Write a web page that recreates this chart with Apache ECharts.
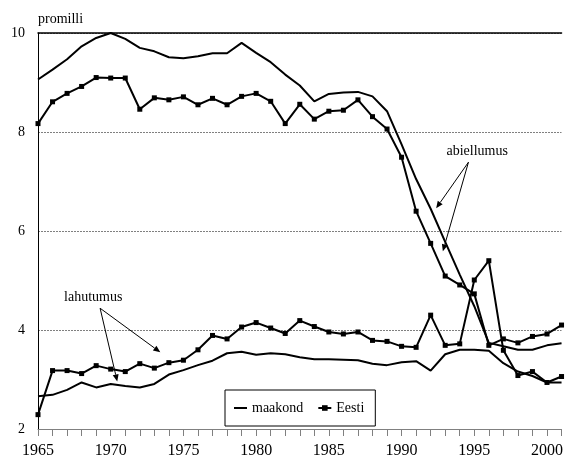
<!DOCTYPE html>
<html>
<head>
<meta charset="utf-8">
<script src="https://cdn.jsdelivr.net/npm/echarts@6/dist/echarts.min.js"></script>
<style>
html,body{margin:0;padding:0;background:#fff;}
#chart{width:566px;height:459px;}
</style>
</head>
<body>
<div id="chart"></div>
<script>
// ---- data ----
const years = [1965,1966,1967,1968,1969,1970,1971,1972,1973,1974,1975,1976,1977,1978,1979,1980,1981,1982,1983,1984,1985,1986,1987,1988,1989,1990,1991,1992,1993,1994,1995,1996,1997,1998,1999,2000,2001];
// abiellumus (marriages per 1000)
const maakondAbiellumus = [9.06,9.26,9.47,9.73,9.90,10.0,9.88,9.70,9.63,9.51,9.49,9.53,9.59,9.59,9.80,9.60,9.41,9.16,8.94,8.62,8.77,8.80,8.81,8.72,8.42,7.75,7.05,6.45,5.78,5.12,4.48,3.74,3.67,3.60,3.60,3.69,3.73];
const eestiAbiellumus = [8.17,8.61,8.78,8.92,9.10,9.09,9.09,8.46,8.69,8.65,8.71,8.55,8.68,8.55,8.72,8.78,8.62,8.17,8.56,8.26,8.42,8.44,8.65,8.31,8.06,7.49,6.40,5.75,5.09,4.91,4.73,3.69,3.82,3.74,3.87,3.92,4.10];
// lahutumus (divorces per 1000)
const maakondLahutumus = [2.66,2.69,2.79,2.94,2.84,2.91,2.87,2.84,2.91,3.10,3.19,3.29,3.38,3.53,3.56,3.50,3.53,3.51,3.45,3.41,3.41,3.40,3.39,3.32,3.29,3.35,3.37,3.18,3.51,3.60,3.60,3.58,3.33,3.16,3.07,2.94,2.94];
const eestiLahutumus = [2.29,3.18,3.18,3.12,3.28,3.21,3.16,3.32,3.23,3.34,3.39,3.60,3.89,3.82,4.06,4.15,4.04,3.93,4.19,4.07,3.96,3.92,3.96,3.79,3.77,3.67,3.65,4.30,3.69,3.72,5.01,5.40,3.59,3.08,3.16,2.94,3.06];
const yTicks = [2,4,6,8,10];
const legendNames = ['maakond','Eesti'];
const yName = 'promilli';
// annotations: label text, label position, arrow start, arrow ends (data units)
const annAbiText = 'abiellumus';
const annAbiPos = [1995.2, 7.60];
const annAbiFrom = [1994.6, 7.39];
const annAbiTo = [[1992.38, 6.46],[1992.84, 5.59]];
const annLahText = 'lahutumus';
const annLahPos = [1968.8, 4.67];
const annLahFrom = [1969.27, 4.44];
const annLahTo = [[1973.41, 3.55],[1970.45, 2.96]];

const FONT = 'Liberation Serif';
const zip = (a) => years.map((y,i)=>[y,a[i]]);

const chart = echarts.init(document.getElementById('chart'), null, {renderer:'canvas'});

function lineSeries(name, data, marker){
  return {
    name: name, type:'line', data: zip(data),
    symbol: marker ? 'rect' : 'none', symbolSize: 5, showAllSymbol: true,
    lineStyle:{color:'#000', width:2}, itemStyle:{color:'#000'},
    emphasis:{disabled:true}, silent:true, animation:false, z: marker?3:2
  };
}

const arrowPairs = annAbiTo.map(t => [annAbiFrom, t]).concat(annLahTo.map(t => [annLahFrom, t]));

const annSeries = {
  name:'annot', type:'line', data:[], silent:true, animation:false,
  itemStyle:{color:'#000'}, lineStyle:{color:'#000'},
  markPoint:{
    silent:true, animation:false,
    symbol:'circle', symbolSize:0,
    label:{show:true, position:'inside', color:'#000', fontFamily:FONT, fontSize:14,
           formatter: p => p.name},
    data:[
      {name: annAbiText, coord: annAbiPos},
      {name: annLahText, coord: annLahPos}
    ]
  }
};

chart.setOption({
  animation:false,
  backgroundColor:'#fff',
  textStyle:{fontFamily:FONT},
  grid:{left:38, right:0, top:33, bottom:30, containLabel:false},
  legend:{
    data: [
      {name: legendNames[0], itemStyle:{color:'rgba(0,0,0,0)', borderWidth:0}},
      {name: legendNames[1]}
    ],
    left:225, top:390,
    padding:[11,11,11,8],
    itemWidth:13, itemHeight:7, itemGap:14,
    borderColor:'#000', borderWidth:1, backgroundColor:'#fff',
    textStyle:{fontFamily:FONT, fontSize:14, color:'#000'},
    selectedMode:false
  },
  xAxis:[{
    type:'value', min:1965, max:2001, interval:1,
    axisLine:{show:true, onZero:false, lineStyle:{color:'#808080', width:1}},
    axisTick:{show:true, length:7, lineStyle:{color:'#808080'}},
    axisLabel:{fontFamily:FONT, fontSize:16, color:'#000', margin:14,
      formatter: v => (v % 5 === 0 && v < 2001) ? String(v) : ''},
    splitLine:{show:false}
  },{
    type:'value', min:1965, max:2001, position:'top',
    axisLine:{show:true, onZero:false, lineStyle:{color:'#000', width:1.5}},
    axisTick:{show:false}, axisLabel:{show:false}, splitLine:{show:false}
  }],
  yAxis:{
    type:'value', min:yTicks[0], max:yTicks[yTicks.length-1], interval:2,
    name: yName, nameLocation:'end', nameGap:7,
    nameTextStyle:{align:'left', fontFamily:FONT, fontSize:14, color:'#000'},
    axisLine:{show:true, lineStyle:{color:'#000', width:1}},
    axisTick:{show:false},
    axisLabel:{fontFamily:FONT, fontSize:14, color:'#000', margin:13},
    splitLine:{show:true, lineStyle:{color:'#808080', width:1, type:[2,1]}}
  },
  series:[
    lineSeries('maakond', maakondAbiellumus, false),
    lineSeries('Eesti', eestiAbiellumus, true),
    lineSeries('maakond', maakondLahutumus, false),
    lineSeries('Eesti', eestiLahutumus, true),
    annSeries
  ]
});

// annotation arrows, positioned through the chart's own scales
function drawArrows(){
  const els = [];
  arrowPairs.forEach(([a,b]) => {
    const p1 = chart.convertToPixel({gridIndex:0}, a);
    const p2 = chart.convertToPixel({gridIndex:0}, b);
    const dx = p2[0]-p1[0], dy = p2[1]-p1[1];
    const len = Math.sqrt(dx*dx+dy*dy);
    const ux = dx/len, uy = dy/len;
    const hl = 7, hw = 3;
    const bx = p2[0]-ux*hl, by = p2[1]-uy*hl;
    els.push({type:'line', silent:true, shape:{x1:p1[0], y1:p1[1], x2:bx, y2:by},
              style:{stroke:'#000', lineWidth:1}, z:10});
    els.push({type:'polygon', silent:true,
              shape:{points:[[p2[0],p2[1]],[bx-uy*hw, by+ux*hw],[bx+uy*hw, by-ux*hw]]},
              style:{fill:'#000'}, z:10});
  });
  chart.setOption({graphic: els});
}
drawArrows();
</script>
</body>
</html>
